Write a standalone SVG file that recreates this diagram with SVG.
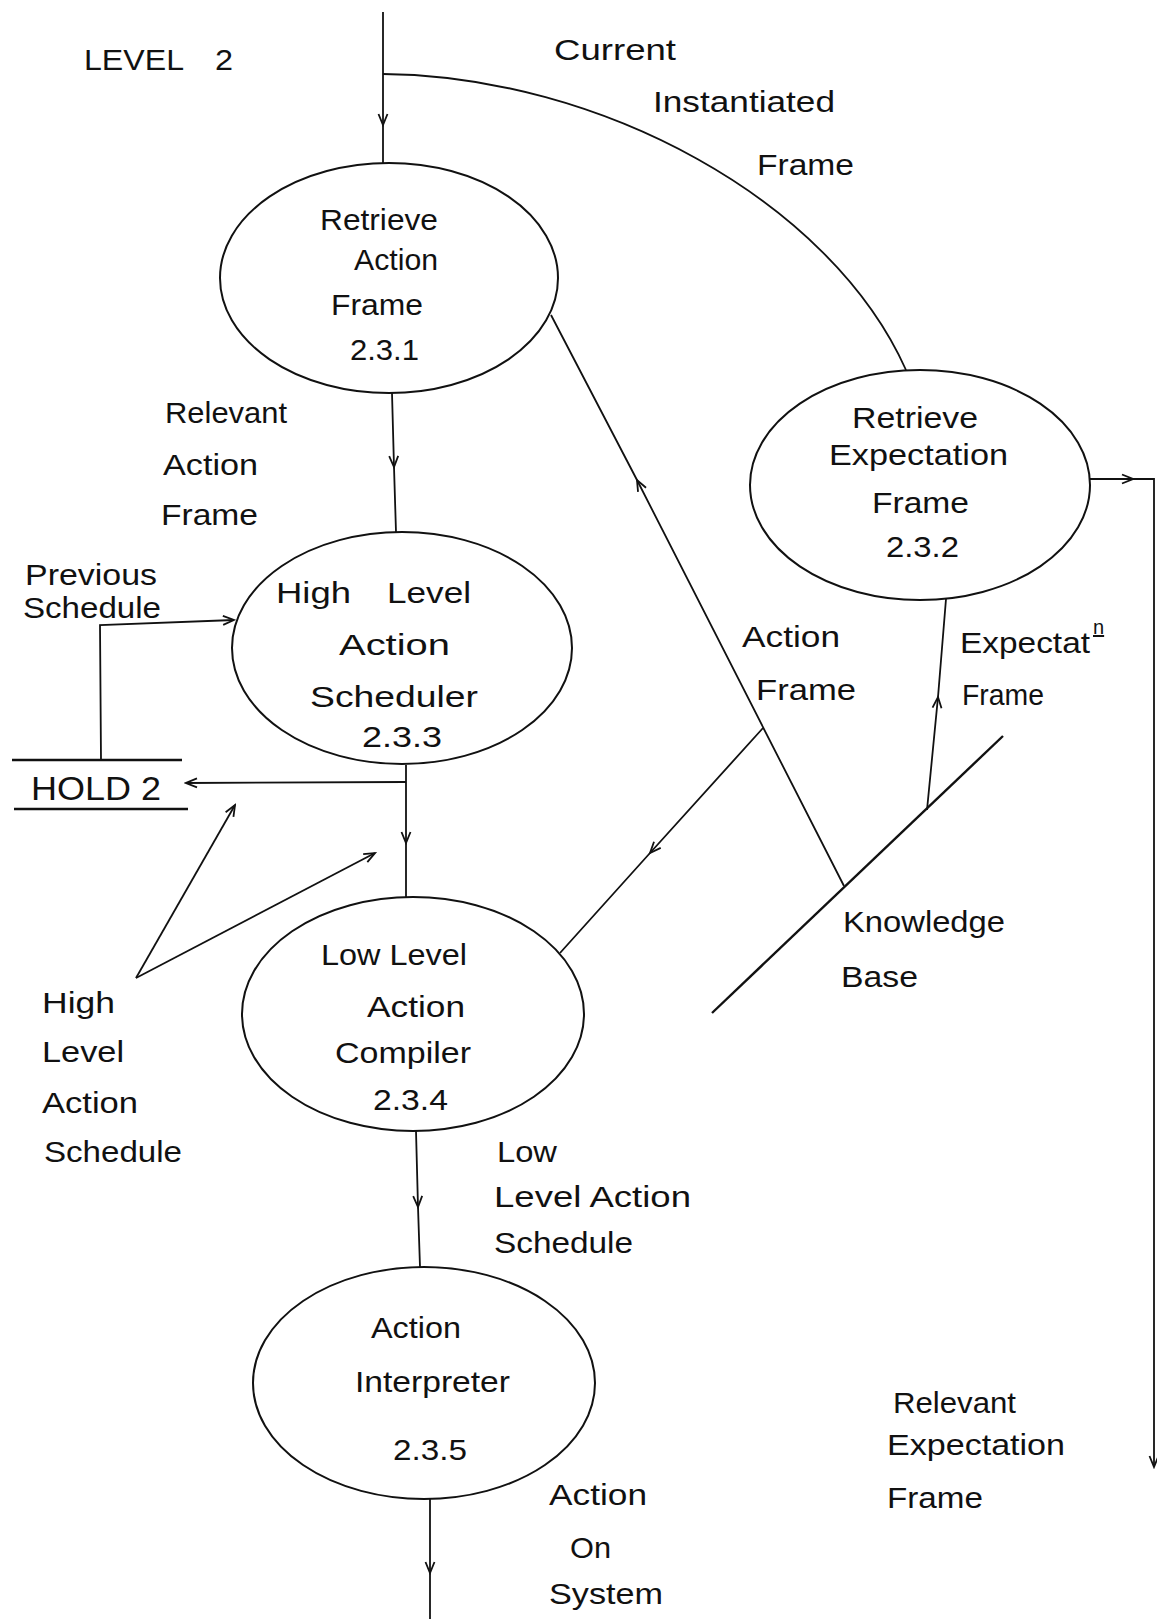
<svg xmlns="http://www.w3.org/2000/svg" width="1157" height="1619" viewBox="0 0 1157 1619">
  <style>
    .bg { fill: #ffffff; }
    .proc { fill: none; stroke: #111; stroke-width: 2; }
    .store { fill: none; stroke: #111; stroke-width: 2.4; }
    .flow { fill: none; stroke: #111; stroke-width: 1.8; }
    .arrow { marker-mid: url(#head); }
    .arrow-end { marker-end: url(#head); }
    text { font-family: "Liberation Sans", Arial, sans-serif; font-size: 30px; fill: #111; }
    .hold { font-size: 34px; }
    .sup { font-size: 20px; }
  </style>
  <defs>
    <marker id="head" viewBox="-13 -6 15 12" refX="0" refY="0" markerWidth="15" markerHeight="12" markerUnits="userSpaceOnUse" orient="auto">
      <path d="M-11,-4.5 L0,0 L-11,4.5" fill="none" stroke="#111" stroke-width="1.8"/>
    </marker>
  </defs>

  <rect class="bg" x="0" y="0" width="1157" height="1619"/>

  <g id="title">
    <text x="84" y="70" textLength="100" lengthAdjust="spacingAndGlyphs">LEVEL</text>
    <text x="215" y="70" textLength="18" lengthAdjust="spacingAndGlyphs">2</text>
  </g>

  <!-- data flows -->
  <g id="connectors">
    <path class="flow arrow" d="M383,12 L383,125 L383,164"/>
    <path class="flow" d="M383,74 C600,76 830,200 906,370"/>
    <path class="flow arrow" d="M392,393 L394,467 L396,532"/>
    <path class="flow arrow-end" d="M101,760 L100,625 L234,620"/>
    <path class="flow arrow-end" d="M406,782 L186,783"/>
    <path class="flow arrow" d="M406,765 L406,843 L406,897"/>
    <path class="flow arrow-end" d="M136,978 L235,805"/>
    <path class="flow arrow-end" d="M136,978 L375,853"/>
    <path class="flow arrow" d="M416,1131 L418,1207 L420,1267"/>
    <path class="flow arrow" d="M430,1499 L430,1573 L430,1619"/>
    <path class="flow arrow" d="M844,886 L637,480 L551,315"/>
    <path class="flow arrow" d="M763,728 L650,853 L560,953"/>
    <path class="flow arrow" d="M927,810 L938,697 L946,599"/>
    <path class="flow arrow-end" d="M1090,479 L1133,479"/>
    <path class="flow arrow-end" d="M1133,479 L1154,479 L1154,1467"/>
  </g>

  <!-- flow labels -->
  <g id="labels">
    <text x="554" y="60" textLength="122" lengthAdjust="spacingAndGlyphs">Current</text>
    <text x="653" y="112" textLength="182" lengthAdjust="spacingAndGlyphs">Instantiated</text>
    <text x="757" y="175" textLength="97" lengthAdjust="spacingAndGlyphs">Frame</text>

    <text x="165" y="423" textLength="122" lengthAdjust="spacingAndGlyphs">Relevant</text>
    <text x="163" y="475" textLength="95" lengthAdjust="spacingAndGlyphs">Action</text>
    <text x="161" y="525" textLength="97" lengthAdjust="spacingAndGlyphs">Frame</text>

    <text x="25" y="585" textLength="132" lengthAdjust="spacingAndGlyphs">Previous</text>
    <text x="23" y="618" textLength="138" lengthAdjust="spacingAndGlyphs">Schedule</text>

    <text x="42" y="1013" textLength="73" lengthAdjust="spacingAndGlyphs">High</text>
    <text x="42" y="1062" textLength="82" lengthAdjust="spacingAndGlyphs">Level</text>
    <text x="42" y="1113" textLength="96" lengthAdjust="spacingAndGlyphs">Action</text>
    <text x="44" y="1162" textLength="138" lengthAdjust="spacingAndGlyphs">Schedule</text>

    <text x="497" y="1162" textLength="60" lengthAdjust="spacingAndGlyphs">Low</text>
    <text x="494" y="1207" textLength="197" lengthAdjust="spacingAndGlyphs">Level Action</text>
    <text x="494" y="1253" textLength="139" lengthAdjust="spacingAndGlyphs">Schedule</text>

    <text x="549" y="1505" textLength="98" lengthAdjust="spacingAndGlyphs">Action</text>
    <text x="570" y="1558" textLength="41" lengthAdjust="spacingAndGlyphs">On</text>
    <text x="549" y="1604" textLength="114" lengthAdjust="spacingAndGlyphs">System</text>

    <text x="742" y="647" textLength="98" lengthAdjust="spacingAndGlyphs">Action</text>
    <text x="756" y="700" textLength="100" lengthAdjust="spacingAndGlyphs">Frame</text>

    <text x="960" y="653" textLength="130" lengthAdjust="spacingAndGlyphs">Expectat</text>
    <text class="sup" x="1093" y="634" text-decoration="underline">n</text>
    <text x="962" y="705" textLength="82" lengthAdjust="spacingAndGlyphs">Frame</text>

    <text x="893" y="1413" textLength="123" lengthAdjust="spacingAndGlyphs">Relevant</text>
    <text x="887" y="1455" textLength="178" lengthAdjust="spacingAndGlyphs">Expectation</text>
    <text x="887" y="1508" textLength="96" lengthAdjust="spacingAndGlyphs">Frame</text>
  </g>

  <g id="p231">
    <ellipse class="proc" cx="389" cy="278" rx="169" ry="115"/>
    <text x="320" y="230" textLength="118" lengthAdjust="spacingAndGlyphs">Retrieve</text>
    <text x="354" y="270" textLength="84" lengthAdjust="spacingAndGlyphs">Action</text>
    <text x="331" y="315" textLength="92" lengthAdjust="spacingAndGlyphs">Frame</text>
    <text x="350" y="360" textLength="69" lengthAdjust="spacingAndGlyphs">2.3.1</text>
  </g>

  <g id="p232">
    <ellipse class="proc" cx="920" cy="485" rx="170" ry="115"/>
    <text x="852" y="428" textLength="126" lengthAdjust="spacingAndGlyphs">Retrieve</text>
    <text x="829" y="465" textLength="179" lengthAdjust="spacingAndGlyphs">Expectation</text>
    <text x="872" y="513" textLength="97" lengthAdjust="spacingAndGlyphs">Frame</text>
    <text x="886" y="557" textLength="73" lengthAdjust="spacingAndGlyphs">2.3.2</text>
  </g>

  <g id="p233">
    <ellipse class="proc" cx="402" cy="648" rx="170" ry="116"/>
    <text x="276" y="603" textLength="75" lengthAdjust="spacingAndGlyphs">High</text>
    <text x="387" y="603" textLength="84" lengthAdjust="spacingAndGlyphs">Level</text>
    <text x="339" y="655" textLength="111" lengthAdjust="spacingAndGlyphs">Action</text>
    <text x="310" y="707" textLength="168" lengthAdjust="spacingAndGlyphs">Scheduler</text>
    <text x="362" y="747" textLength="80" lengthAdjust="spacingAndGlyphs">2.3.3</text>
  </g>

  <g id="p234">
    <ellipse class="proc" cx="413" cy="1014" rx="171" ry="117"/>
    <text x="321" y="965" textLength="146" lengthAdjust="spacingAndGlyphs">Low Level</text>
    <text x="367" y="1017" textLength="98" lengthAdjust="spacingAndGlyphs">Action</text>
    <text x="335" y="1063" textLength="136" lengthAdjust="spacingAndGlyphs">Compiler</text>
    <text x="373" y="1110" textLength="75" lengthAdjust="spacingAndGlyphs">2.3.4</text>
  </g>

  <g id="p235">
    <ellipse class="proc" cx="424" cy="1383" rx="171" ry="116"/>
    <text x="371" y="1338" textLength="90" lengthAdjust="spacingAndGlyphs">Action</text>
    <text x="355" y="1392" textLength="155" lengthAdjust="spacingAndGlyphs">Interpreter</text>
    <text x="393" y="1460" textLength="74" lengthAdjust="spacingAndGlyphs">2.3.5</text>
  </g>

  <g id="hold2">
    <line class="store" x1="12" y1="760" x2="182" y2="760"/>
    <line class="store" x1="14" y1="809" x2="188" y2="809"/>
    <text class="hold" x="31" y="800" textLength="130" lengthAdjust="spacingAndGlyphs">HOLD 2</text>
  </g>

  <g id="knowledge-base">
    <line class="store" x1="712" y1="1013" x2="1003" y2="736"/>
    <text x="843" y="932" textLength="162" lengthAdjust="spacingAndGlyphs">Knowledge</text>
    <text x="841" y="987" textLength="77" lengthAdjust="spacingAndGlyphs">Base</text>
  </g>
</svg>
